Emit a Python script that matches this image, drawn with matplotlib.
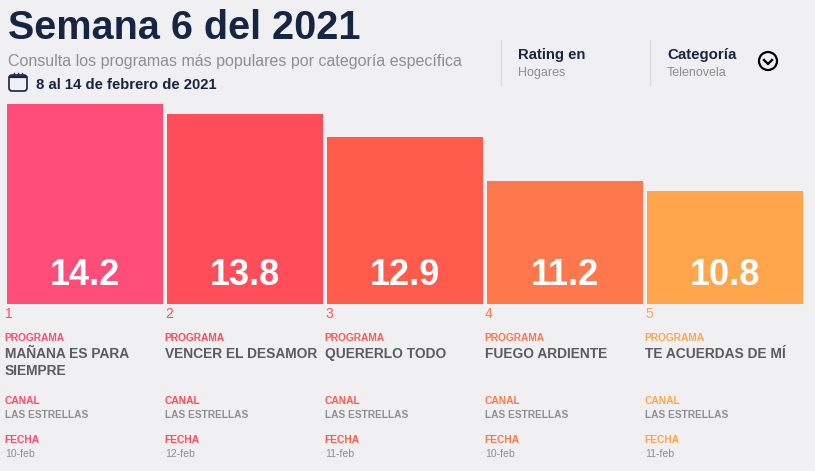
import matplotlib
matplotlib.use('Agg')
import matplotlib.pyplot as plt
from matplotlib.patches import FancyBboxPatch, Circle

plt.rcParams['font.family'] = ['Liberation Sans', 'DejaVu Sans']

ranks = ['1', '2', '3', '4', '5']
ratings = [14.2, 13.8, 12.9, 11.2, 10.8]
programas = [['MAÑANA ES PARA', 'SIEMPRE'], ['VENCER EL DESAMOR'], ['QUERERLO TODO'], ['FUEGO ARDIENTE'], ['TE ACUERDAS DE MÍ']]
canales = ['LAS ESTRELLAS', 'LAS ESTRELLAS', 'LAS ESTRELLAS', 'LAS ESTRELLAS', 'LAS ESTRELLAS']
fechas = ['10-feb', '12-feb', '11-feb', '10-feb', '11-feb']
colores = ['#FF4D79', '#FF4D5A', '#FF5B4D', '#FF784D', '#FFA64D']
label_colores = ['#FF4D6A', '#FF4D55', '#FF5B4D', '#FF784D', '#FFA64D']

bg = '#F0F0F3'
navy = '#162544'
gris = '#8E8E93'
W, H = 815, 471
base = 6.4

fig = plt.figure(figsize=(W / 100, H / 100), dpi=100, facecolor=bg)

# bars, the rating axis does not start at zero
ax = fig.add_axes([5 / W, 1 - 304 / H, 800 / W, 200 / H])
ax.set_xlim(-0.5, 4.5)
ax.set_ylim(base, 14.2)
ax.axis('off')
x = list(range(len(ratings)))
ax.bar(x, ratings, width=0.975, color=colores, linewidth=0)
for i in x:
    ax.text(i, base + 0.74, '{:.1f}'.format(ratings[i]), color='white', fontsize=26,
            fontweight='bold', ha='center', va='baseline')

# everything else in pixel coordinates
tx = fig.add_axes([0, 0, 1, 1], facecolor='none')
tx.set_xlim(0, W)
tx.set_ylim(H, 0)
tx.axis('off')


def t(px, py, s, **kw):
    tx.text(px, py, s, va='baseline', **kw)


t(8, 39, 'Semana 6 del 2021', color=navy, fontsize=28.5, fontweight='bold')
t(8, 66, 'Consulta los programas más populares por categoría específica', color=gris, fontsize=11.5)
t(36, 89, '8 al 14 de febrero de 2021', color=navy, fontsize=10.7, fontweight='bold')

# calendar icon
tx.add_patch(FancyBboxPatch((9, 75), 18, 16, boxstyle='round,pad=0,rounding_size=3',
                            fc='none', ec=navy, lw=1.2))
tx.plot([10, 26], [77, 77], color=navy, lw=1.6)
for cx in [14, 18, 22]:
    tx.plot([cx, cx], [73, 76], color=navy, lw=1)

# selectors
tx.plot([500.5, 500.5], [40, 85], color='#DCDCE0', lw=1)
tx.plot([649.5, 649.5], [40, 85], color='#DCDCE0', lw=1)
t(518, 59, 'Rating en', color=navy, fontsize=10.7, fontweight='bold')
t(518, 76, 'Hogares', color=gris, fontsize=9)
t(667, 59, 'Categoría', color=navy, fontsize=10.8, fontweight='bold')
t(667, 76, 'Telenovela', color=gris, fontsize=9)
tx.add_patch(Circle((768, 61), 9, fc='none', ec='black', lw=1.6))
tx.plot([764, 768, 772], [60, 64, 60], color='black', lw=1.7)

# details under each bar
for i in x:
    left = 5 + 160 * i
    c = label_colores[i]
    t(left, 318, ranks[i], color=c, fontsize=10)
    t(left - 0.5, 341, 'PROGRAMA', color=c, fontsize=7.4, fontweight='bold')
    for j, line in enumerate(programas[i]):
        t(left, 358 + 17 * j, line, color='#5A5A5F', fontsize=9.9, fontweight='bold')
    t(left - 0.5, 404, 'CANAL', color=c, fontsize=7.4, fontweight='bold')
    t(left, 418, canales[i], color=gris, fontsize=7.25, fontweight='bold')
    t(left - 0.5, 443, 'FECHA', color=c, fontsize=7.4, fontweight='bold')
    t(left, 457, fechas[i], color=gris, fontsize=7.6)

fig.savefig('out.png', dpi=100, facecolor=bg)
